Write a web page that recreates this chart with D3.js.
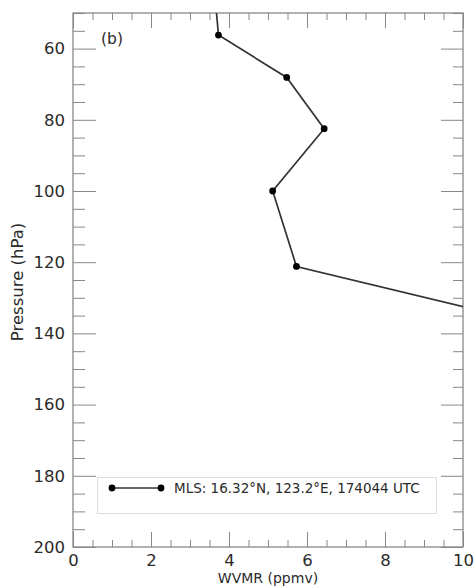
<!DOCTYPE html>
<html><head><meta charset="utf-8">
<script src="https://cdn.jsdelivr.net/npm/d3@7"></script>
<style>body{margin:0;background:#fff}svg{display:block}text{font-family:"DejaVu Sans",sans-serif}</style>
</head><body><svg id="c" width="475" height="587"></svg>
<script>
const pressure = [46.4, 56.2, 68.1, 82.5, 100, 121.2, 146.8];
const wvmr = [3.65, 3.73, 5.48, 6.44, 5.12, 5.73, 15.4];
const xTicks = [0, 2, 4, 6, 8, 10];
const yTicks = [60, 80, 100, 120, 140, 160, 180, 200];
const legendLabel = "MLS: 16.32°N, 123.2°E, 174044 UTC";
const panelLabel = "(b)";

const m = {l: 73, r: 12, t: 13, b: 40};
const W = 475, H = 587;
const svg = d3.select("#c");
const x = d3.scaleLinear().domain([0, 10]).range([m.l, W - m.r]);
const y = d3.scaleLinear().domain([50, 200]).range([m.t, H - m.b]);
const axisCol = "#888", txtCol = "#2a2a2a";

svg.append("defs").append("clipPath").attr("id", "clip")
  .append("rect").attr("x", m.l).attr("y", m.t).attr("width", x(10) - m.l).attr("height", y(200) - m.t);

const xMinor = d3.range(0, 10.01, 0.5).filter(v => v % 2 !== 0);
const yMinor = d3.range(50, 200.01, 5).filter(v => v % 20 !== 0);
function styleAx(g) {
  g.select(".domain").remove();
  g.selectAll(".tick line").attr("stroke", axisCol).attr("stroke-width", 1);
  g.selectAll(".tick text").attr("fill", txtCol);
}
// bottom
svg.append("g").attr("transform", `translate(0,${y(200)})`)
  .call(d3.axisBottom(x).tickValues(xTicks).tickSize(-15).tickPadding(4).tickFormat(d3.format("d")))
  .call(styleAx).call(g => g.selectAll(".tick text").attr("font-size", 16.5).attr("dy", "0.92em"));
svg.append("g").attr("transform", `translate(0,${y(200)})`)
  .call(d3.axisBottom(x).tickValues(xMinor).tickSize(-7).tickFormat("")).call(styleAx);
// top
svg.append("g").attr("transform", `translate(0,${y(50)})`)
  .call(d3.axisTop(x).tickValues(xTicks).tickSize(-15).tickFormat("")).call(styleAx);
svg.append("g").attr("transform", `translate(0,${y(50)})`)
  .call(d3.axisTop(x).tickValues(xMinor).tickSize(-7).tickFormat("")).call(styleAx);
// left
svg.append("g").attr("transform", `translate(${x(0)},0)`)
  .call(d3.axisLeft(y).tickValues(yTicks).tickSize(-23).tickPadding(8).tickFormat(d3.format("d")))
  .call(styleAx).call(g => g.selectAll(".tick text").attr("font-size", 16.5));
svg.append("g").attr("transform", `translate(${x(0)},0)`)
  .call(d3.axisLeft(y).tickValues(yMinor).tickSize(-12).tickFormat("")).call(styleAx);
// right
svg.append("g").attr("transform", `translate(${x(10)},0)`)
  .call(d3.axisRight(y).tickValues(yTicks).tickSize(-22).tickFormat("")).call(styleAx);
svg.append("g").attr("transform", `translate(${x(10)},0)`)
  .call(d3.axisRight(y).tickValues(yMinor).tickSize(-10).tickFormat("")).call(styleAx);

// frame
svg.append("rect").attr("x", x(0)).attr("y", y(50)).attr("width", x(10) - x(0)).attr("height", y(200) - y(50))
  .attr("fill", "none").attr("stroke", axisCol).attr("stroke-width", 1.3);

// data
const pts = pressure.map((p, i) => ({p, v: wvmr[i]}));
const g = svg.append("g").attr("clip-path", "url(#clip)");
g.append("path").datum(pts)
  .attr("d", d3.line().x(d => x(d.v)).y(d => y(d.p)))
  .attr("fill", "none").attr("stroke", "#333").attr("stroke-width", 1.7);
g.selectAll("circle").data(pts).join("circle")
  .attr("cx", d => x(d.v)).attr("cy", d => y(d.p)).attr("r", 3.4).attr("fill", "#000");

// panel label
svg.append("text").attr("x", 101).attr("y", 44).attr("font-size", 15.5).attr("fill", txtCol).text(panelLabel);

// legend
const lg = svg.append("g");
lg.append("rect").attr("x", 97.5).attr("y", 477.5).attr("width", 339).attr("height", 36)
  .attr("fill", "#fff").attr("stroke", "#ddd").attr("stroke-width", 1);
lg.append("line").attr("x1", 112).attr("x2", 161).attr("y1", 488).attr("y2", 488)
  .attr("stroke", "#333").attr("stroke-width", 1.7);
lg.selectAll("circle").data([112, 161]).join("circle")
  .attr("cx", d => d).attr("cy", 488).attr("r", 3.4).attr("fill", "#000");
lg.append("text").attr("x", 174).attr("y", 493).attr("font-size", 13.5).attr("fill", txtCol).text(legendLabel);

// axis titles
svg.append("text").attr("transform", `translate(23,${(y(50) + y(200)) / 2 + 2}) rotate(-90)`)
  .attr("text-anchor", "middle").attr("font-size", 16.5).attr("fill", txtCol).text("Pressure (hPa)");
svg.append("text").attr("x", (x(0) + x(10)) / 2).attr("y", 583)
  .attr("text-anchor", "middle").attr("font-size", 14).attr("fill", txtCol).text("WVMR (ppmv)");
</script></body></html>
